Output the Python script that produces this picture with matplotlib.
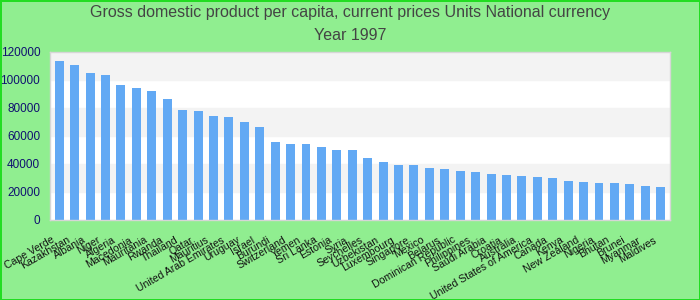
import numpy as np
import matplotlib.pyplot as plt
from matplotlib.transforms import ScaledTranslation

plt.rcParams['font.family'] = ['Liberation Sans', 'DejaVu Sans']

# Data
countries = [
    "Cape Verde", "Kazakhstan", "Albania", "Niger", "Algeria", "Macedonia",
    "Mauritania", "Rwanda", "Thailand", "Qatar", "Mauritius",
    "United Arab Emirates", "Uruguay", "Israel", "Burundi", "Switzerland",
    "Yemen", "Sri Lanka", "Estonia", "Syria", "Seychelles", "Uzbekistan",
    "Luxembourg", "Singapore", "Mexico", "Belarus", "Dominican Republic",
    "Philippines", "Saudi Arabia", "Croatia", "Australia",
    "United States of America", "Canada", "Kenya", "New Zealand", "Nigeria",
    "Bhutan", "Brunei", "Myanmar", "Maldives",
]
gdp = [
    113300, 110500, 104800, 103400, 96200, 94100, 92000, 86300, 78400, 77700,
    74100, 73400, 69900, 66300, 55600, 54200, 54200, 52000, 49900, 49900,
    44200, 41300, 39200, 39200, 37100, 36400, 34900, 34200, 32800, 32100,
    31400, 30700, 29900, 27800, 27100, 26400, 26400, 25700, 24200, 23500,
]
yticks = [0, 20000, 40000, 60000, 80000, 100000, 120000]

fig = plt.figure(figsize=(7, 3), dpi=100)
fig.patch.set_facecolor("#90ee90")
fig.patch.set_edgecolor("#22dd22")
fig.patch.set_linewidth(2)

ax = fig.add_axes([0.0714, 0.2667, 0.8857, 0.561])
ax.set_facecolor("white")

# alternating horizontal bands
for i in range(len(yticks) - 1):
    if i % 2 == 1:
        ax.axhspan(yticks[i], yticks[i + 1], color="#f3f3f3", zorder=0)

x = np.arange(len(countries))
ax.bar(x, gdp, width=0.58, color="#62a9f4", zorder=2)

ax.set_xlim(-0.6, len(countries) - 0.4)
ax.set_ylim(0, 120000)
ax.set_yticks(yticks)
ax.set_yticklabels([str(v) for v in yticks], color="#101070", fontsize=8.5)
ax.set_xticks(x)
ax.set_xticklabels(countries, rotation=30, ha="right", rotation_mode="anchor",
                   fontsize=7.6, color="#111111")
ax.tick_params(axis="both", length=0)
ax.tick_params(axis="y", pad=7)
ax.tick_params(axis="x", pad=10)

# nudge the labels a little left, like the original
shift = ScaledTranslation(-0.08, -0.01, fig.dpi_scale_trans)
for lbl in ax.get_xticklabels():
    lbl.set_transform(lbl.get_transform() + shift)

for s in ax.spines.values():
    s.set_color("#d6d6d6")
    s.set_linewidth(1)

fig.text(0.5, 0.96, "Gross domestic product per capita, current prices Units National currency",
         ha="center", va="center", fontsize=11.5, color="#444444")
fig.text(0.5, 0.882, "Year 1997", ha="center", va="center", fontsize=11.5, color="#444444")

fig.savefig("out.png", dpi=100, facecolor=fig.get_facecolor(), edgecolor=fig.get_edgecolor())
